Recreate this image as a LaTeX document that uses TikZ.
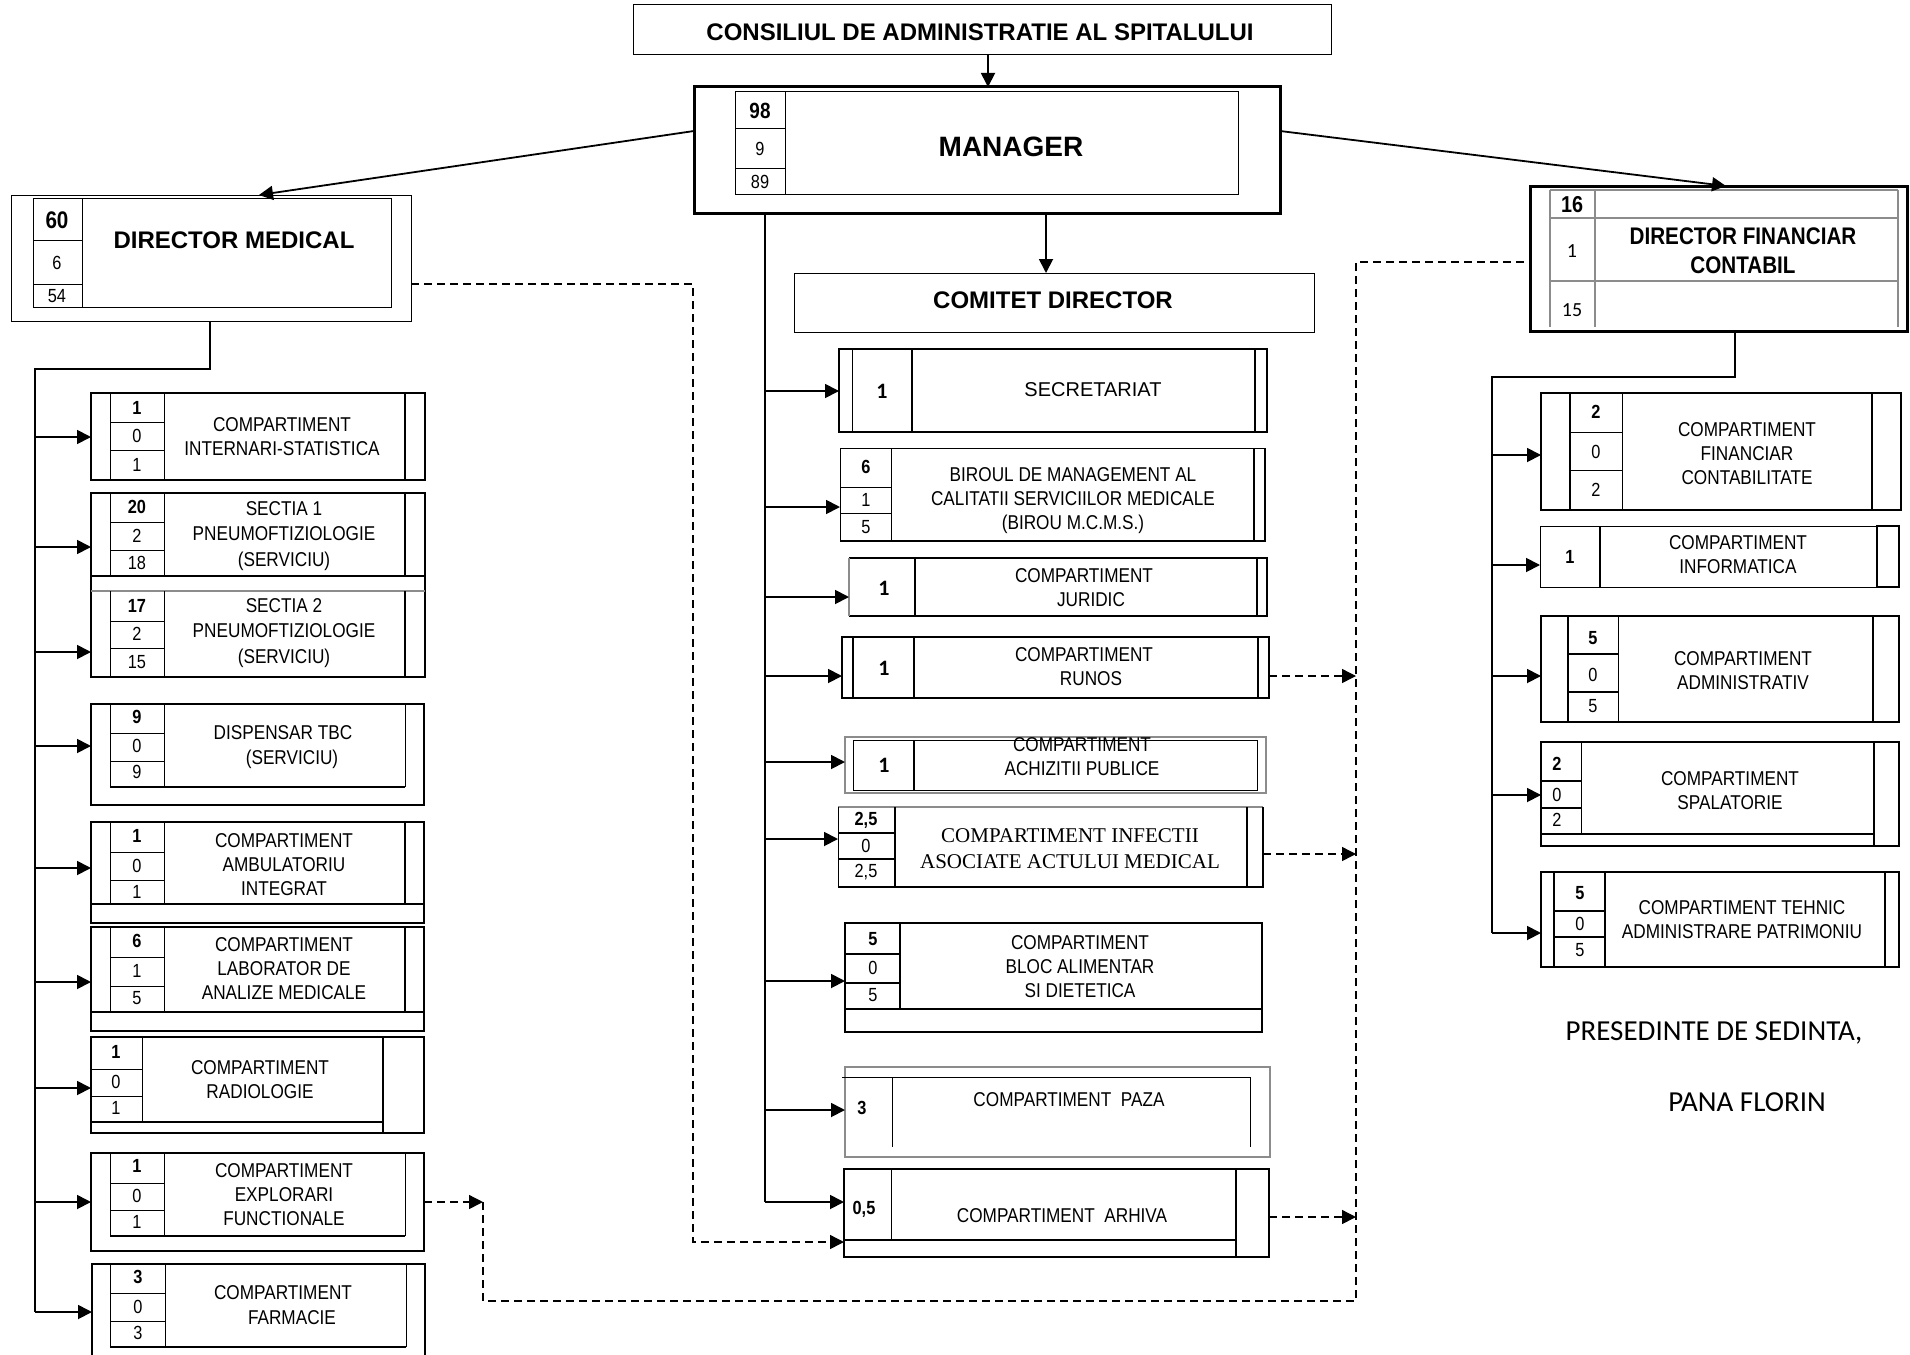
\documentclass[tikz,border=0pt]{standalone}
\usepackage{fontspec}
\setmainfont{Liberation Sans}
\newfontfamily\narrow[FakeStretch=0.86]{Liberation Sans}
\newfontfamily\tms{Liberation Serif}
\newfontfamily\calfont{Carlito}
\usetikzlibrary{arrows.meta}
\newcommand\bx[6]{\node[#6, inner sep=0pt, outer sep=0pt, minimum width={(#4-#2)*0.5pt}, minimum height={(#5-#3)*0.5pt}, anchor=north west] (#1) at (#2,#3) {};}
\newcommand\nm[4]{\node[font=\narrow\fontsize{9.5}{10}\selectfont, inner sep=0pt] (#1) at (#2,#3) {#4};}
\newcommand\bn[4]{\node[font=\narrow\bfseries\fontsize{9.5}{10}\selectfont, inner sep=0pt] (#1) at (#2,#3) {#4};}
\newcommand\cn[4]{\node[font=\calfont\bfseries\fontsize{11}{12}\selectfont, inner sep=0pt] (#1) at (#2,#3) {#4};}
\newcommand\tb[4]{\node[font=\narrow\fontsize{10}{12}\selectfont, align=center, inner sep=0pt] (#1) at (#2,#3) {#4};}
\begin{document}
\begin{tikzpicture}[x=0.5pt,y=-0.5pt,
  tk/.style={draw, line width=1.3pt},
  md/.style={draw, line width=0.9pt},
  tn/.style={draw, line width=0.5pt},
  gr/.style={draw=black!45, line width=0.6pt},
  ln/.style={line width=0.9pt},
  arr/.style={line width=0.9pt, -{Triangle[length=7pt,width=7pt]}},
  dsh/.style={line width=0.7pt, dash pattern=on 4pt off 2.5pt},
  dsharr/.style={dsh, -{Triangle[length=7pt,width=7pt]}},
  hd/.style={font=\bfseries\fontsize{12}{14}\selectfont, inner sep=0pt, align=center}]
\useasboundingbox (0,0) rectangle (1910,1354);

% ---------- top ----------
\bx{cons}{633}{5}{1331}{55}{tn}
\node[hd] (const) at (980,32) {CONSILIUL DE ADMINISTRATIE AL SPITALULUI};

\bx{man}{694}{87}{1280}{213}{draw, line width=1.5pt}
\draw[tn] (735,92) rectangle (1238,194);
\draw[tn] (785,92)--(785,194) (735,129)--(785,129) (735,168)--(785,168);
\node[font=\narrow\bfseries\fontsize{11}{12}\selectfont, inner sep=0pt] (man1) at (760,111) {98};
\nm{man2}{760}{149}{9} \nm{man3}{760}{182}{89}
\node[font=\bfseries\fontsize{14}{16}\selectfont, inner sep=0pt] (mant) at (1011,147) {MANAGER};
\draw[arr] (cons.south -| 988,0) -- (man.north -| 988,0);

\bx{com}{794}{273}{1314}{332}{tn}
\node[hd] (comt) at (1053,300) {COMITET DIRECTOR};
\draw[arr] (man.south -| 1046,0) -- (com.north -| 1046,0);

% ---------- director medical ----------
\bx{dm}{11}{195}{411}{321}{tn}
\draw[tn] (33,198) rectangle (391,307);
\draw[tn] (82,198)--(82,307) (33,240)--(82,240) (33,284)--(82,284);
\node[font=\narrow\bfseries\fontsize{12}{13}\selectfont, inner sep=0pt] (dm1) at (57,220) {60};
\nm{dm2}{57}{263}{6} \nm{dm3}{57}{296}{54}
\node[hd] (dmt) at (234,240) {DIRECTOR MEDICAL};
\draw[arr] (man.west |- 0,131) -- (dm.north -| 259,0);

% ---------- director financiar ----------
\bx{dfc}{1530}{186}{1907}{331}{draw, line width=1.5pt}
\draw[gr] (1550,190)--(1898,190) (1550,218)--(1898,218) (1550,281)--(1898,281)
  (1550,190)--(1550,327) (1595,190)--(1595,327) (1898,190)--(1898,327);
\node[font=\narrow\bfseries\fontsize{11.5}{12}\selectfont, inner sep=0pt] (df1) at (1572,205) {16};
\node[font=\calfont\fontsize{10}{12}\selectfont, inner sep=0pt] (df2) at (1572,251) {1};
\node[font=\calfont\fontsize{10}{12}\selectfont, inner sep=0pt] (df3) at (1572,310) {15};
\node[font=\narrow\bfseries\fontsize{12}{14.5}\selectfont, align=center, inner sep=0pt] (dft) at (1743,251) {DIRECTOR FINANCIAR\\CONTABIL};
\draw[arr] (man.east |- 0,131) -- (dfc.north -| 1726,0);

% ---------- left column ----------
\draw[ln] (dm.south -| 210,0) -- (210,369) -- (35,369) -- (35,1312);
\coordinate (Ltr) at (35,369);

% internari
\bx{int}{91}{393}{425}{480}{tk}
\draw[tn] (110,393)--(110,480) (164,393)--(164,480) (110,422)--(164,422) (110,450)--(164,450);
\draw[tk] (405,393)--(405,480);
\bn{int1}{137}{408}{1} \nm{int2}{137}{436}{0} \nm{int3}{137}{465}{1}
\tb{intt}{282}{437}{COMPARTIMENT\\INTERNARI-STATISTICA}
\draw[arr] (Ltr |- 0,437) -- (int.west |- 0,437);

% sectia 1 & 2
\bx{s1}{91}{493}{425}{576}{}
\bx{s2}{91}{591}{425}{677}{}
\draw[tk] (91,493) rectangle (425,677);
\draw[tk] (91,576)--(425,576);
\draw[gr] (91,591)--(425,591);
\draw[tn] (110,493)--(110,576) (164,493)--(164,576) (110,522)--(164,522) (110,550)--(164,550);
\draw[md] (405,493)--(405,576);
\bn{s11}{137}{507}{20} \nm{s12}{137}{536}{2} \nm{s13}{137}{563}{18}
\node[font=\narrow\fontsize{10}{12.8}\selectfont, align=center, inner sep=0pt] (s1t) at (284,536) {SECTIA 1\\PNEUMOFTIZIOLOGIE\\(SERVICIU)};
\draw[arr] (Ltr |- 0,547) -- (s1.west |- 0,547);
\draw[tn] (110,591)--(110,677) (164,591)--(164,677) (110,621)--(164,621) (110,648)--(164,648);
\draw[md] (405,591)--(405,677);
\bn{s21}{137}{606}{17} \nm{s22}{137}{634}{2} \nm{s23}{137}{662}{15}
\node[font=\narrow\fontsize{10}{12.8}\selectfont, align=center, inner sep=0pt] (s2t) at (284,633) {SECTIA 2\\PNEUMOFTIZIOLOGIE\\(SERVICIU)};
\draw[arr] (Ltr |- 0,652) -- (s2.west |- 0,652);

% dispensar
\bx{dtb}{91}{704}{424}{805}{tk}
\draw[tn] (110,704)--(110,787) (405,704)--(405,787) (164,704)--(164,787) (110,733)--(164,733) (110,761)--(164,761);
\draw[md] (110,787)--(405,787);
\bn{dtb1}{137}{717}{9} \nm{dtb2}{137}{746}{0} \nm{dtb3}{137}{772}{9}
\tb{dtbt1}{283}{733}{DISPENSAR TBC}
\tb{dtbt2}{292}{759}{(SERVICIU)}
\draw[arr] (Ltr |- 0,746) -- (dtb.west |- 0,746);

% ambulatoriu
\bx{amb}{91}{822}{424}{923}{tk}
\draw[tk] (91,904)--(424,904);
\draw[tn] (110,822)--(110,904) (164,822)--(164,904) (110,852)--(164,852) (110,880)--(164,880);
\draw[md] (405,822)--(405,904);
\bn{amb1}{137}{836}{1} \nm{amb2}{137}{866}{0} \nm{amb3}{137}{892}{1}
\tb{ambt}{284}{865}{COMPARTIMENT\\AMBULATORIU\\INTEGRAT}
\draw[arr] (Ltr |- 0,868) -- (amb.west |- 0,868);

% laborator
\bx{lab}{91}{927}{424}{1031}{tk}
\draw[tk] (91,1012)--(424,1012);
\draw[tn] (110,927)--(110,1012) (164,927)--(164,1012) (110,957)--(164,957) (110,986)--(164,986);
\draw[md] (405,927)--(405,1012);
\bn{lab1}{137}{941}{6} \nm{lab2}{137}{971}{1} \nm{lab3}{137}{998}{5}
\tb{labt}{284}{969}{COMPARTIMENT\\LABORATOR DE\\ANALIZE MEDICALE}
\draw[arr] (Ltr |- 0,982) -- (lab.west |- 0,982);

% radiologie
\bx{rad}{91}{1037}{424}{1133}{tk}
\draw[tk] (91,1122)--(383,1122);
\draw[md] (383,1037)--(383,1133);
\draw[tn] (142,1037)--(142,1122) (91,1069)--(142,1069) (91,1096)--(142,1096);
\bn{rad1}{116}{1052}{1} \nm{rad2}{116}{1082}{0} \nm{rad3}{116}{1108}{1}
\tb{radt}{260}{1080}{COMPARTIMENT\\RADIOLOGIE}
\draw[arr] (Ltr |- 0,1088) -- (rad.west |- 0,1088);

% explorari
\bx{exp}{91}{1153}{424}{1251}{tk}
\draw[tn] (110,1153)--(110,1236) (405,1153)--(405,1236) (164,1153)--(164,1236) (110,1183)--(164,1183) (110,1210)--(164,1210);
\draw[md] (110,1236)--(405,1236);
\bn{exp1}{137}{1166}{1} \nm{exp2}{137}{1196}{0} \nm{exp3}{137}{1222}{1}
\tb{expt}{284}{1195}{COMPARTIMENT\\EXPLORARI\\FUNCTIONALE}
\draw[arr] (Ltr |- 0,1202) -- (exp.west |- 0,1202);

% farmacie
\bx{far}{92}{1264}{425}{1354}{}
\draw[tk] (92,1356)--(92,1264)--(425,1264)--(425,1356);
\draw[tn] (110,1264)--(110,1347) (406,1264)--(406,1347) (165,1264)--(165,1347) (110,1293)--(165,1293) (110,1321)--(165,1321);
\draw[md] (110,1347)--(406,1347);
\bn{far1}{138}{1277}{3} \nm{far2}{138}{1307}{0} \nm{far3}{138}{1333}{3}
\tb{fart1}{283}{1293}{COMPARTIMENT}
\tb{fart2}{292}{1318}{FARMACIE}
\draw[arr] (Ltr |- 0,1312) -- (far.west |- 0,1312);

% ---------- center column ----------
\coordinate (Ctr) at (765,213);
\draw[ln] (man.south -| Ctr) -- (765,1202);

% secretariat
\bx{sec}{839}{349}{1267}{432}{tk}
\draw[tn] (852,349)--(852,432); \draw[md] (912,349)--(912,432); \draw[tk] (1255,349)--(1255,432);
\cn{sec1}{882}{391}{1}
\node[font=\fontsize{10}{12}\selectfont, inner sep=0pt] (sect) at (1093,390) {SECRETARIAT};
\draw[arr] (Ctr |- 0,391) -- (sec.west |- 0,391);

% biroul
\bx{bir}{840}{448}{1265}{541}{tn}
\draw[tk] (840,541)--(1265,541)--(1265,448) (1254,448)--(1254,541);
\draw[tn] (891,448)--(891,541) (840,487)--(891,487) (840,513)--(891,513);
\bn{bir1}{866}{467}{6} \nm{bir2}{866}{500}{1} \nm{bir3}{866}{527}{5}
\tb{birt}{1073}{501}{BIROUL DE MANAGEMENT AL\\CALITATII SERVICIILOR MEDICALE\\(BIROU M.C.M.S.)}
\draw[arr] (Ctr |- 0,507) -- (bir.west |- 0,507);

% juridic
\bx{jur}{849}{558}{1267}{616}{}
\draw[tk] (849,558)--(1267,558)--(1267,616)--(849,616);
\draw[gr] (849,558)--(849,616);
\draw[md] (915,558)--(915,616); \draw[tk] (1257,558)--(1257,616);
\cn{jur1}{884}{588}{1}
\tb{jurt1}{1084}{576}{COMPARTIMENT}
\tb{jurt2}{1091}{600}{JURIDIC}
\draw[arr] (Ctr |- 0,597) -- (jur.west |- 0,597);

% runos
\bx{run}{842}{637}{1269}{698}{tk}
\draw[md] (853,637)--(853,698) (914,637)--(914,698); \draw[tk] (1258,637)--(1258,698);
\cn{run1}{884}{668}{1}
\tb{runt1}{1084}{655}{COMPARTIMENT}
\tb{runt2}{1091}{679}{RUNOS}
\draw[arr] (Ctr |- 0,676) -- (run.west |- 0,676);

% achizitii
\bx{ach}{845}{737}{1266}{793}{gr}
\draw[tn] (853,740) rectangle (1257,790);
\draw[md] (914,740)--(914,790);
\cn{ach1}{884}{765}{1}
\tb{acht1}{1082}{745}{COMPARTIMENT}
\tb{acht2}{1082}{769}{ACHIZITII PUBLICE}
\draw[arr] (Ctr |- 0,762) -- (ach.west |- 0,762);

% infectii
\bx{inf}{838}{807}{1263}{887}{}
\draw[gr] (838,807)--(1263,807);
\draw[tk] (1263,807)--(1263,887)--(838,887) (1247,807)--(1247,887);
\draw[tn] (838,807)--(838,887);
\draw[md] (895,807)--(895,887) (838,833)--(895,833) (838,859)--(895,859);
\bn{inf1}{866}{820}{2,5} \nm{inf2}{866}{846}{0} \nm{inf3}{866}{872}{2,5}
\node[font=\tms\fontsize{10.5}{13}\selectfont, align=center, inner sep=0pt] (inft) at (1070,849) {COMPARTIMENT INFECTII\\ASOCIATE ACTULUI MEDICAL};
\draw[arr] (Ctr |- 0,839) -- (inf.west |- 0,839);

% bloc alimentar
\bx{blc}{845}{923}{1262}{1032}{tk}
\draw[tk] (845,1009)--(1262,1009);
\draw[md] (900,923)--(900,1009) (845,954)--(900,954) (845,983)--(900,983);
\bn{blc1}{873}{939}{5} \nm{blc2}{873}{968}{0} \nm{blc3}{873}{995}{5}
\tb{blct}{1080}{967}{COMPARTIMENT\\BLOC ALIMENTAR\\SI DIETETICA}
\draw[arr] (Ctr |- 0,981) -- (blc.west |- 0,981);

% paza
\bx{paz}{845}{1067}{1270}{1157}{gr}
\draw[tn] (842,1077)--(1250,1077)--(1250,1147) (892,1077)--(892,1147);
\bn{paz1}{862}{1108}{3}
\tb{pazt}{1069}{1100}{COMPARTIMENT\ \ PAZA}
\draw[arr] (Ctr |- 0,1110) -- (paz.west |- 0,1110);

% arhiva
\bx{arh}{844}{1169}{1269}{1257}{tk}
\draw[tn] (891,1169)--(891,1240);
\draw[md] (844,1240)--(1236,1240);
\draw[tk] (1236,1169)--(1236,1257);
\bn{arh1}{864}{1209}{0,5}
\tb{arht}{1062}{1216}{COMPARTIMENT\ \ ARHIVA}
\draw[arr] (Ctr |- 0,1202) -- (arh.west |- 0,1202);

% ---------- right column ----------
\draw[ln] (dfc.south -| 1735,0) -- (1735,377) -- (1492,377) -- (1492,933);
\coordinate (Rtr) at (1492,377);

% financiar
\bx{fin}{1541}{393}{1901}{510}{tk}
\draw[tk] (1570,393)--(1570,510) (1872,393)--(1872,510);
\draw[tn] (1622,393)--(1622,510) (1570,432)--(1622,432) (1570,470)--(1622,470);
\bn{fin1}{1596}{412}{2} \nm{fin2}{1596}{452}{0} \nm{fin3}{1596}{490}{2}
\tb{fint}{1747}{454}{COMPARTIMENT\\FINANCIAR\\CONTABILITATE}
\draw[arr] (Rtr |- 0,455) -- (fin.west |- 0,455);

% informatica
\bx{infm}{1540}{526}{1899}{587}{tn}
\draw[tk] (1877,526) rectangle (1899,587);
\draw[md] (1600,526)--(1600,587);
\bn{infm1}{1570}{557}{1}
\tb{infmt}{1738}{555}{COMPARTIMENT\\INFORMATICA}
\draw[arr] (Rtr |- 0,565) -- (infm.west |- 0,565);

% administrativ
\bx{adm}{1541}{616}{1899}{722}{tk}
\draw[tk] (1568,616)--(1568,722) (1873,616)--(1873,722);
\draw[tn] (1618,616)--(1618,722);
\draw[md] (1568,654)--(1618,654) (1568,692)--(1618,692);
\bn{adm1}{1593}{638}{5} \nm{adm2}{1593}{675}{0} \nm{adm3}{1593}{706}{5}
\tb{admt}{1743}{671}{COMPARTIMENT\\ADMINISTRATIV}
\draw[arr] (Rtr |- 0,676) -- (adm.west |- 0,676);

% spalatorie
\bx{spa}{1541}{742}{1899}{846}{tk}
\draw[tk] (1541,834)--(1874,834) (1874,742)--(1874,846);
\draw[tn] (1581,742)--(1581,834);
\draw[md] (1541,781)--(1581,781) (1541,808)--(1581,808);
\bn{spa1}{1557}{764}{2} \nm{spa2}{1557}{795}{0} \nm{spa3}{1557}{820}{2}
\tb{spat}{1730}{791}{COMPARTIMENT\\SPALATORIE}
\draw[arr] (Rtr |- 0,795) -- (spa.west |- 0,795);

% tehnic
\bx{teh}{1541}{872}{1899}{967}{tk}
\draw[tk] (1885,872)--(1885,967);
\draw[md] (1554,872)--(1554,967) (1605,872)--(1605,967) (1554,911)--(1605,911) (1554,937)--(1605,937);
\bn{teh1}{1580}{893}{5} \nm{teh2}{1580}{924}{0} \nm{teh3}{1580}{950}{5}
\tb{teht}{1742}{920}{COMPARTIMENT TEHNIC\\ADMINISTRARE PATRIMONIU}
\draw[arr] (Rtr |- 0,933) -- (teh.west |- 0,933);

% ---------- dashed links ----------
\draw[dsharr] (dm.east |- 0,284) -- (693,284) -- (693,1242) -- (arh.west |- 0,1242);
\draw[dsharr] (exp.east |- 0,1202) -- (483,1202);
\draw[dsh] (483,1202) -- (483,1301) -- (1356,1301) -- (1356,262) -- (dfc.west |- 0,262);
\draw[dsharr] (run.east |- 0,676) -- (1356,676);
\draw[dsharr] (inf.east |- 0,854) -- (1356,854);
\draw[dsharr] (arh.east |- 0,1217) -- (1356,1217);

% ---------- signature ----------
\node[font=\calfont\fontsize{14.5}{16}\selectfont, inner sep=0pt] (pres) at (1714,1033) {PRESEDINTE DE SEDINTA,};
\node[font=\calfont\fontsize{14.5}{16}\selectfont, inner sep=0pt] (pana) at (1747,1102) {PANA FLORIN};
\end{tikzpicture}
\end{document}
